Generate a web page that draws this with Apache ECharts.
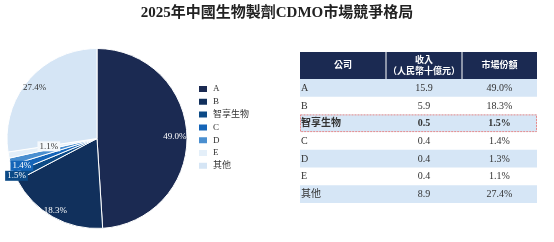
<!DOCTYPE html>
<html><head><meta charset="utf-8">
<script src="https://cdn.jsdelivr.net/npm/echarts@6/dist/echarts.min.js"></script>
<style>html,body{margin:0;padding:0;background:#fff}#c{width:554px;height:242px}</style>
</head><body><div id="c"></div>
<script>
const titleText = '2025年中國生物製劑CDMO市場競爭格局';
const companies = ['A', 'B', '智享生物', 'C', 'D', 'E', '其他'];
const revenue = [15.9, 5.9, 0.5, 0.4, 0.4, 0.4, 8.9];
const share = [49.0, 18.3, 1.5, 1.4, 1.3, 1.1, 27.4];
const headers = ['公司', '收入\n（人民幣十億元）', '市場份額'];

const colors = ['#1b2a52', '#11305c', '#0c4a86', '#1565b8', '#4a8fd0', '#e4eff9', '#d5e5f5'];
const labelOffsets = [[30, 0], [-18, 30], [-37, 17], [-30, 11], [-21, 5], [-1, -1], [-26, -20]];
const labelColors = ['#fff', '#fff', '#fff', '#fff', '#fff', '#333', '#333'];
const labelBgs = [null, null, colors[2], colors[3], colors[4], '#f4f8fc', null];

const SERIF = "'Liberation Serif','Times New Roman','Noto Sans CJK TC',serif";
const colEdges = [0, 86, 162, 237];
const headerH = 27, rowH = 17.7, tableW = 237, tableH = 151;

const chart = echarts.init(document.getElementById('c'), null, {renderer: 'canvas'});

const pieData = companies.map((c, i) => ({
  name: c,
  value: share[i],
  itemStyle: {color: colors[i]},
  label: {
    color: labelColors[i],
    offset: labelOffsets[i],
    backgroundColor: labelBgs[i] || 'transparent',
    padding: labelBgs[i] ? [1, 2, 0, 2] : 0
  }
}));

function renderHeader(params, api) {
  const p0 = api.coord([0, 0]);
  const p1 = api.coord([tableW, headerH]);
  const children = [{
    type: 'rect',
    shape: {x: p0[0], y: p0[1], width: p1[0] - p0[0], height: p1[1] - p0[1]},
    style: {fill: '#1b2a52'}
  }];
  for (let k = 1; k < colEdges.length - 1; k++) {
    const a = api.coord([colEdges[k], 0]);
    children.push({type: 'line', shape: {x1: a[0], y1: p0[1], x2: a[0], y2: p1[1]},
      style: {stroke: '#ffffff', lineWidth: 1}});
  }
  for (let k = 0; k < headers.length; k++) {
    const c = api.coord([(colEdges[k] + colEdges[k + 1]) / 2, headerH / 2]);
    children.push({type: 'text', x: c[0], y: c[1] + 0.5,
      style: {text: headers[k], fill: '#fff', font: "bold 9px " + SERIF, align: 'center', verticalAlign: 'middle', lineHeight: 11}});
  }
  return {type: 'group', children};
}

function renderRow(params, api) {
  const i = api.value(0);
  const y0 = headerH + i * rowH;
  const p0 = api.coord([0, y0]);
  const p1 = api.coord([tableW, y0 + rowH]);
  const children = [];
  if (i % 2 === 0) {
    children.push({type: 'rect', shape: {x: p0[0], y: p0[1], width: p1[0] - p0[0], height: p1[1] - p0[1]},
      style: {fill: '#d6e6f6'}});
  }
  const bold = companies[i] === '智享生物';
  if (bold) {
    children.push({type: 'rect', shape: {x: p0[0] + 0.5, y: p0[1] + 0.5, width: p1[0] - p0[0] - 1, height: p1[1] - p0[1] - 1},
      style: {fill: 'none', stroke: '#e88a8a', lineWidth: 1, lineDash: [2, 1]}});
  }
  const ym = (p0[1] + p1[1]) / 2 + 0.5;
  const font = (bold ? 'bold ' : '') + '10px ' + SERIF;
  const cx2 = api.coord([(colEdges[1] + colEdges[2]) / 2, 0])[0];
  const cx3 = api.coord([(colEdges[2] + colEdges[3]) / 2, 0])[0];
  children.push({type: 'text', x: p0[0] + 1, y: ym, style: {text: companies[i], fill: '#333', font, align: 'left', verticalAlign: 'middle'}});
  children.push({type: 'text', x: cx2, y: ym, style: {text: api.value(1).toFixed(1), fill: '#333', font, align: 'center', verticalAlign: 'middle'}});
  children.push({type: 'text', x: cx3, y: ym, style: {text: api.value(2).toFixed(1) + '%', fill: '#333', font, align: 'center', verticalAlign: 'middle'}});
  return {type: 'group', children};
}

chart.setOption({
  animation: false,
  backgroundColor: '#fff',
  title: {
    text: titleText, left: 'center', top: 6, padding: 0,
    textStyle: {fontSize: 15, fontWeight: 'bold', color: '#222', fontFamily: SERIF}
  },
  legend: {
    orient: 'vertical', left: 197, top: 84, padding: 0,
    itemWidth: 10, itemHeight: 8, itemGap: 2.8,
    icon: 'rect',
    textStyle: {fontSize: 9, color: '#333', fontFamily: SERIF, lineHeight: 10},
    data: companies
  },
  grid: {left: 300, top: 52, width: tableW, height: tableH, show: false},
  xAxis: {type: 'value', min: 0, max: tableW, show: false},
  yAxis: {type: 'value', min: 0, max: tableH, inverse: true, show: false},
  series: [
    {
      type: 'pie',
      center: [97, 138.5],
      radius: [0, 90],
      startAngle: 90,
      clockwise: true,
      avoidLabelOverlap: false,
      itemStyle: {borderColor: '#fff', borderWidth: 1},
      label: {
        show: true, position: 'inside',
        formatter: p => share[p.dataIndex].toFixed(1) + '%',
        fontSize: 9, fontFamily: SERIF
      },
      labelLine: {show: false},
      emphasis: {disabled: true},
      data: pieData
    },
    {
      type: 'custom', coordinateSystem: 'cartesian2d', silent: true,
      renderItem: renderHeader,
      data: [[0, 0]]
    },
    {
      type: 'custom', coordinateSystem: 'cartesian2d', silent: true,
      renderItem: renderRow,
      encode: {x: 1, y: 0},
      data: companies.map((c, i) => [i, revenue[i], share[i]])
    }
  ]
});
</script></body></html>
